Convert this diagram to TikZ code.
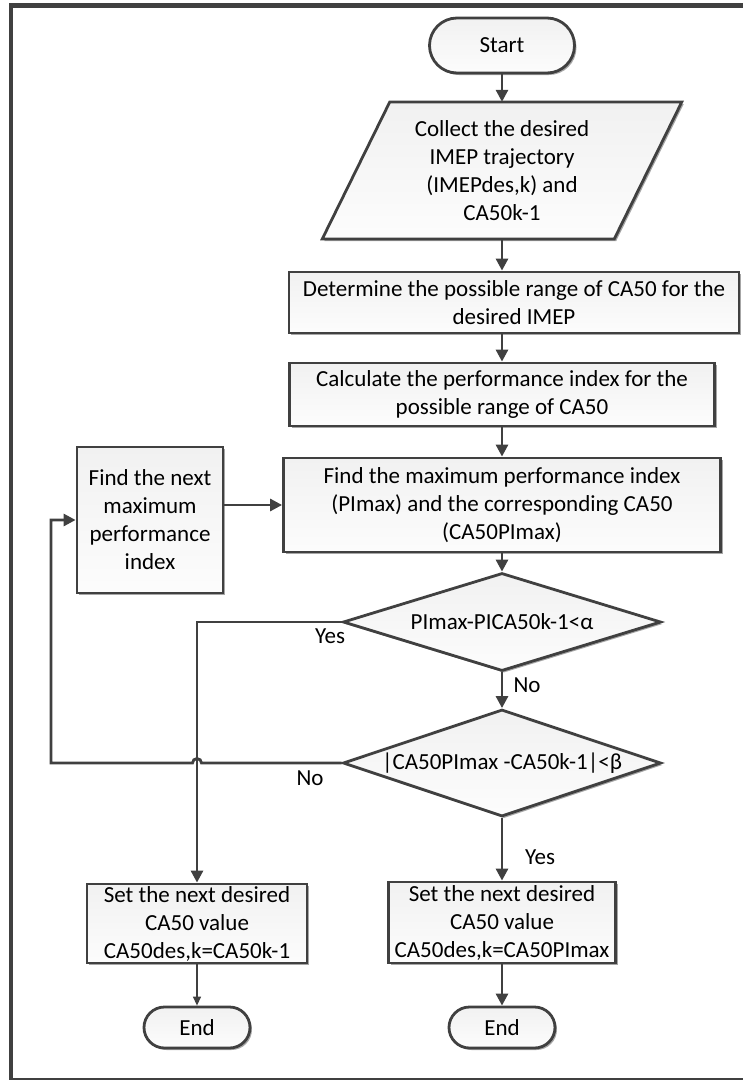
\documentclass[tikz,border=0pt]{standalone}
\usepackage{fontspec}
\setmainfont{Carlito}
\usetikzlibrary{arrows.meta,shapes.geometric,shapes.misc,shadows,calc}
\definecolor{ln}{HTML}{404040}
\begin{document}
\begin{tikzpicture}[x=1pt,y=-1pt,
  font=\fontsize{23}{28}\selectfont,
  base/.style={draw=ln, line width=2.8pt, top color=gray!11, bottom color=gray!2,
    drop shadow={shadow xshift=2pt,shadow yshift=-2pt,fill=black,opacity=0.35},
    inner sep=0pt, align=center},
  procbox/.style={base, rectangle},
  term/.style={base, rounded rectangle},
  decis/.style={base, diamond},
  arr/.style={draw=ln, line width=2.8pt, -{Triangle[length=12pt,width=12pt]}},
  thinarr/.style={draw=ln, line width=1.3pt, -{Triangle[length=9pt,width=8pt]}},
  lbl/.style={inner sep=0pt}]
\path[use as bounding box] (0,0) rectangle (743,1080);
\clip (0,0) rectangle (743,1080);
\draw[ln, line width=4.5pt] (11,5.5) rectangle (748,1080.5);

% start
\node[term, minimum width=145pt, minimum height=55pt] (start) at (502,45.5) {Start};

% parallelogram (input)
\coordinate (p1) at (389.75,102);
\coordinate (p2) at (681.75,102);
\coordinate (p3) at (614.25,239);
\coordinate (p4) at (322.25,239);
\fill[black, opacity=0.35] ($(p1)+(2,2)$) -- ($(p2)+(2,2)$) -- ($(p3)+(2,2)$) -- ($(p4)+(2,2)$) -- cycle;
\path[draw=ln, line width=2.8pt, top color=gray!11, bottom color=gray!2] (p1) -- (p2) -- (p3) -- (p4) -- cycle;
\node[inner sep=0pt, minimum width=292pt, minimum height=137pt, align=center] (coll) at (502,170.5)
  {Collect the desired\\IMEP trajectory\\(IMEPdes,k) and\\CA50k-1};

\node[procbox, minimum width=450pt, minimum height=61pt] (det) at (514,302.5)
  {Determine the possible range of CA50 for the\\desired IMEP};
\node[procbox, minimum width=425pt, minimum height=63pt] (calc) at (502,394.5)
  {Calculate the performance index for the\\possible range of CA50};
\node[procbox, minimum width=437pt, minimum height=94pt] (fmax) at (502,505)
  {Find the maximum performance index\\(PImax) and the corresponding CA50\\(CA50PImax)};
\node[procbox, minimum width=146pt, minimum height=146pt] (next) at (150,520)
  {Find the next\\maximum\\performance\\index};
\node[decis, minimum width=318pt, minimum height=98pt] (d1) at (502,622)
  {\makebox[0pt]{PImax-PICA50k-1<α}};
\node[decis, minimum width=318pt, minimum height=107pt] (d2) at (502,763)
  {\makebox[0pt]{|CA50PImax -CA50k-1|<β}};
\node[procbox, minimum width=227pt, minimum height=81pt] (setR) at (502,922.5)
  {Set the next desired\\CA50 value\\CA50des,k=CA50PImax};
\node[procbox, minimum width=220pt, minimum height=79pt] (setL) at (197,923.5)
  {Set the next desired\\CA50 value\\CA50des,k=CA50k-1};
\node[term, minimum width=106pt, minimum height=41pt] (endL) at (197,1027.5) {End};
\node[term, minimum width=106pt, minimum height=41pt] (endR) at (502,1027.5) {End};

% connectors
\draw[arr] (start.south) -- (coll.north);
\draw[arr] (coll.south) -- (coll.south |- det.north);
\draw[arr] (calc.north |- det.south) -- (calc.north);
\draw[arr] (calc.south) -- (fmax.north);
\draw[arr] (next.east |- fmax.west) -- (fmax.west);
\draw[arr] (fmax.south) -- (d1.north);
\draw[arr] (d1.west) -| (setL.north);
\draw[arr] (d1.south) -- (d2.north);
\coordinate (loopc) at (51,763);
\draw[arr] (d2.west) -- ($(setL.north |- d2.west)+(4.5,0)$)
  arc[start angle=0, end angle=180, radius=4.5pt] -- (loopc) |- (next.west);
\draw[arr] (d2.south) -- (setR.north);
\draw[thinarr] (setL.south) -- (endL.north);
\draw[arr] (setR.south) -- (endR.north);

% labels
\node[lbl] (yes1) at (330,636) {Yes};
\node[lbl] (no1) at (527,685) {No};
\node[lbl] (no2) at (310,778) {No};
\node[lbl] (yes2) at (540,857) {Yes};
\end{tikzpicture}
\end{document}
